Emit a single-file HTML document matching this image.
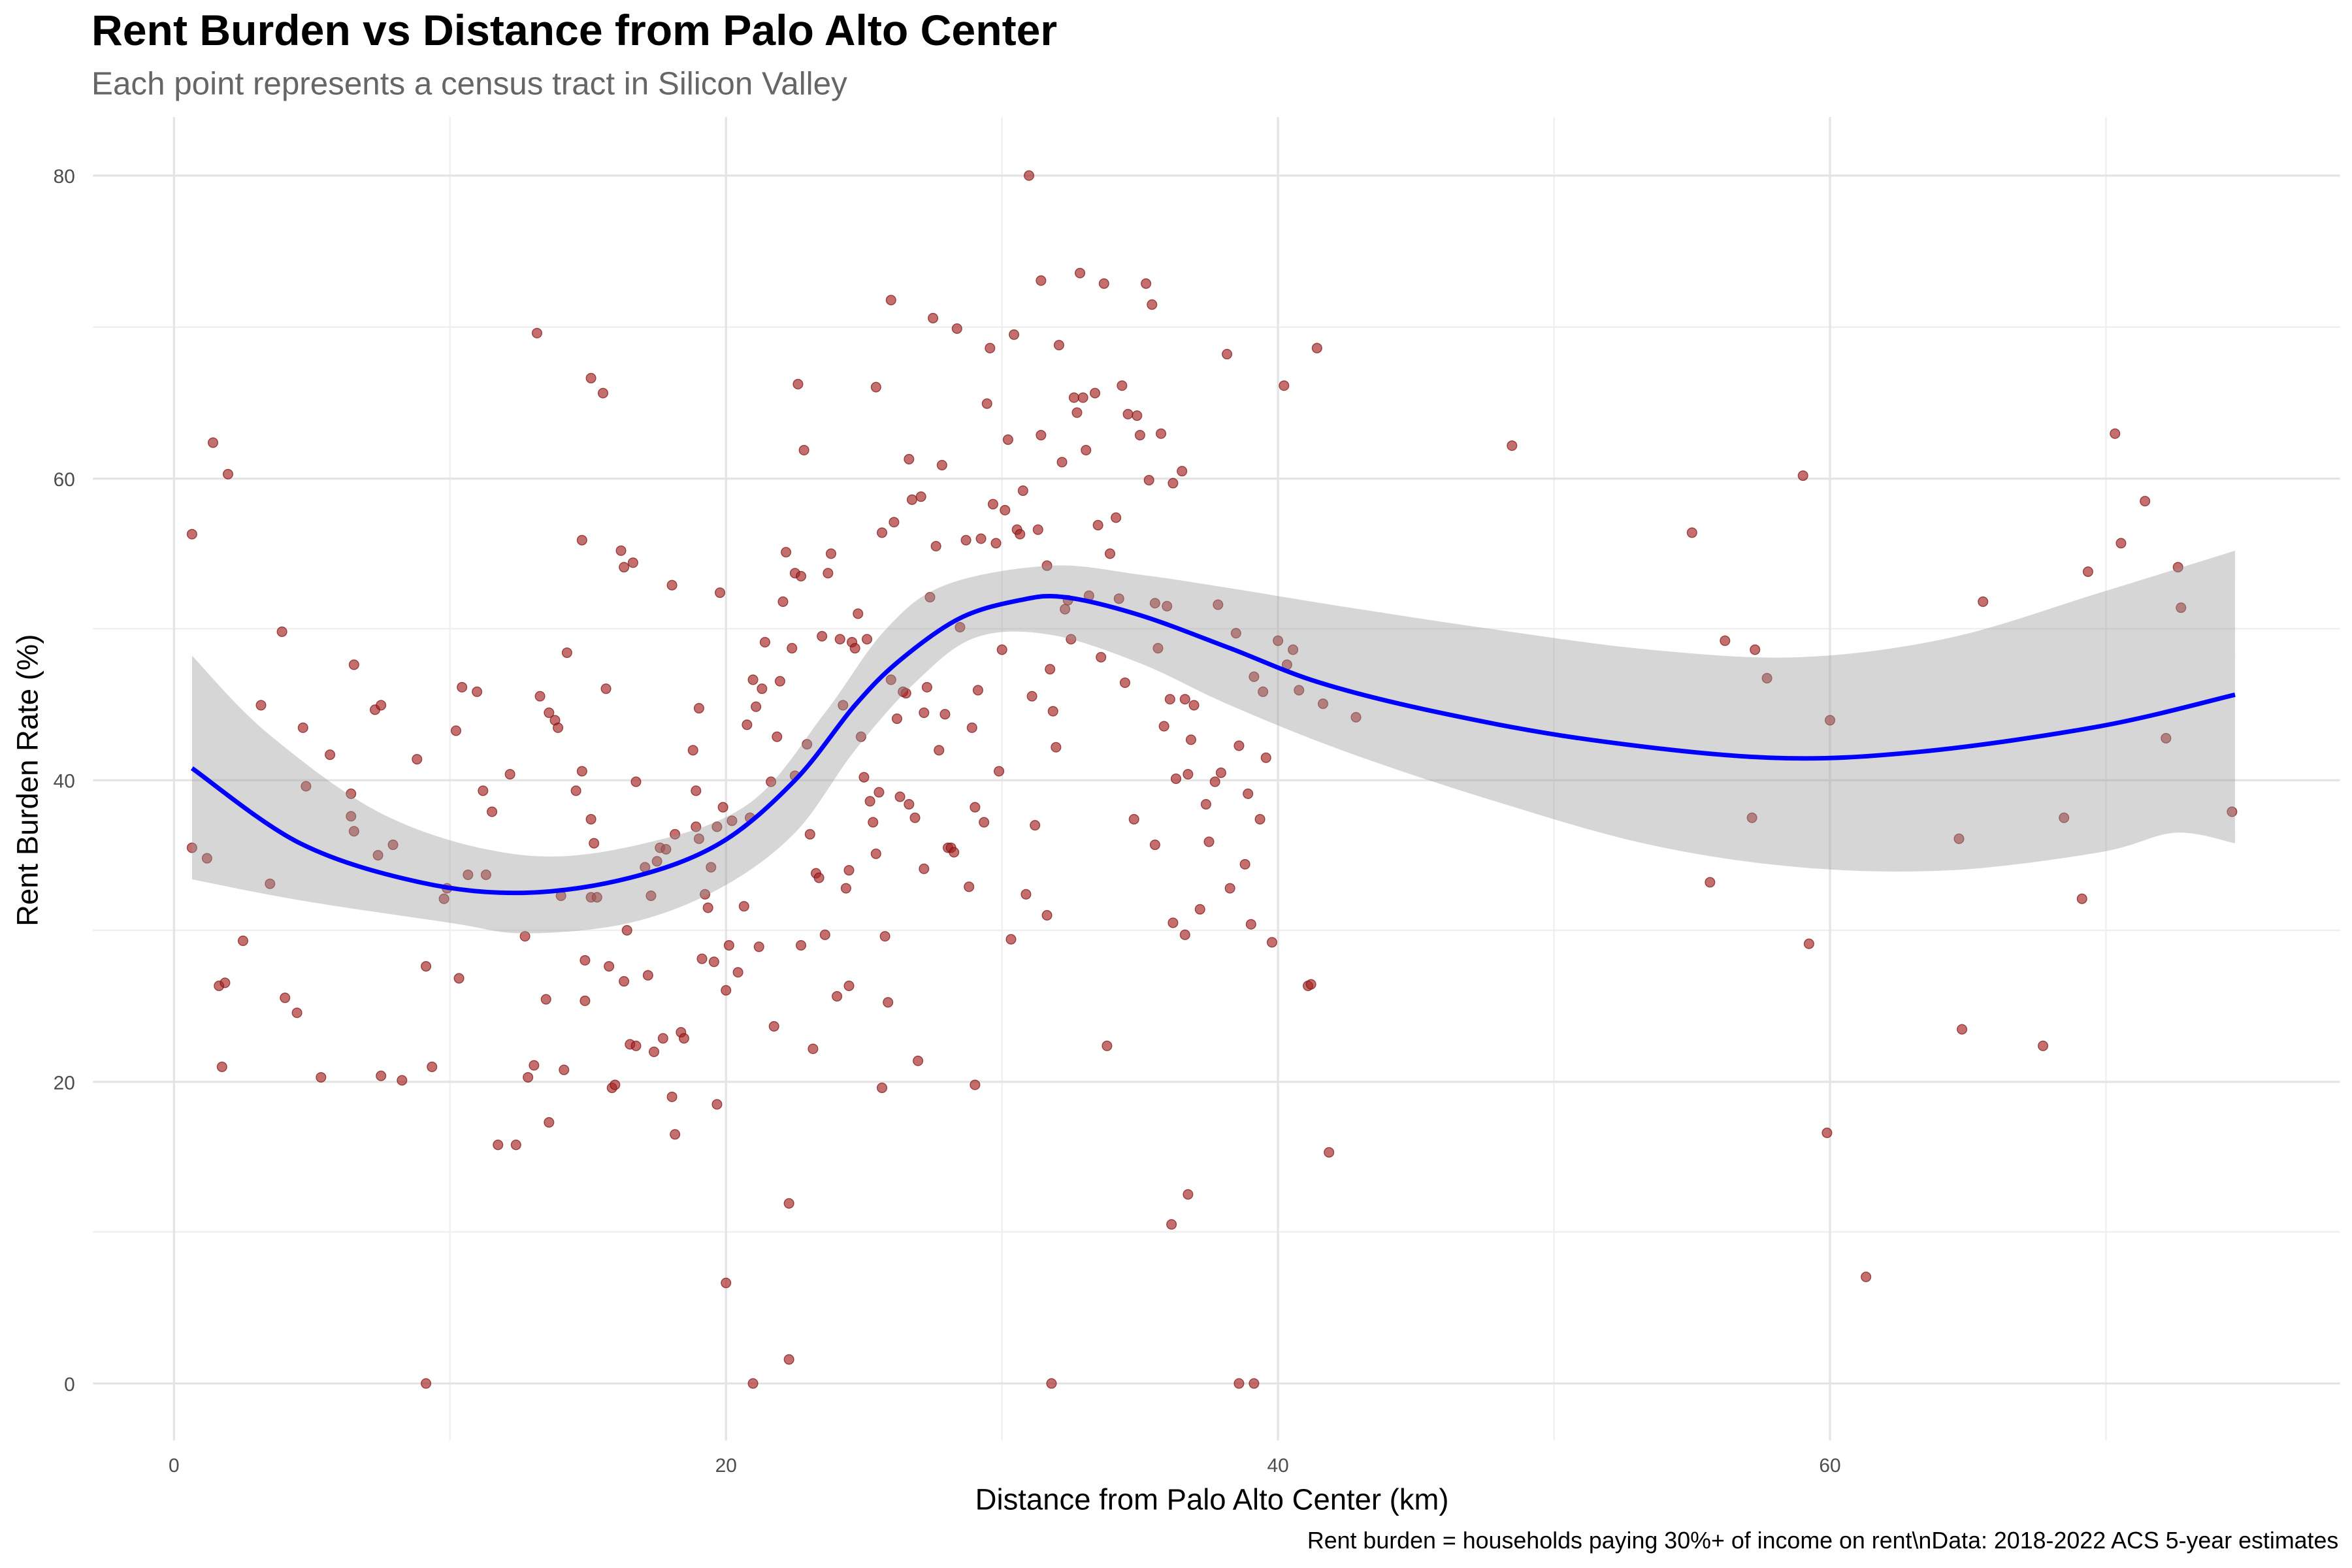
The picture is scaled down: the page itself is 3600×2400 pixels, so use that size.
<!DOCTYPE html>
<html><head><meta charset="utf-8"><style>
html,body{margin:0;padding:0;background:#fff}
svg{display:block}
text{font-family:"Liberation Sans",sans-serif}
</style></head><body>
<svg id="s" width="3600" height="2400" viewBox="0 0 1568 1045" preserveAspectRatio="none" xmlns="http://www.w3.org/2000/svg">
<rect width="1568" height="1045" fill="#fff"/>
<g stroke="#efefef" stroke-width="1">
<line x1="62" x2="1560" y1="821" y2="821"/><line x1="62" x2="1560" y1="620" y2="620"/><line x1="62" x2="1560" y1="419" y2="419"/><line x1="62" x2="1560" y1="218" y2="218"/>
<line y1="78" y2="960" x1="300" x2="300"/><line y1="78" y2="960" x1="668" x2="668"/><line y1="78" y2="960" x1="1036" x2="1036"/><line y1="78" y2="960" x1="1404" x2="1404"/>
</g>
<g stroke="#e4e4e4" stroke-width="1.4">
<line x1="62" x2="1560" y1="922" y2="922"/><line x1="62" x2="1560" y1="721" y2="721"/><line x1="62" x2="1560" y1="520" y2="520"/><line x1="62" x2="1560" y1="319" y2="319"/><line x1="62" x2="1560" y1="117" y2="117"/>
<line y1="78" y2="960" x1="116" x2="116"/><line y1="78" y2="960" x1="484" x2="484"/><line y1="78" y2="960" x1="852" x2="852"/><line y1="78" y2="960" x1="1220" x2="1220"/>
</g>
<g id="pts" fill="#a52020" fill-opacity="0.65" stroke="#7a1010" stroke-opacity="0.7" stroke-width="0.6"></g>
<path id="band" fill="#999" fill-opacity="0.4" stroke="none"/>
<path id="line" fill="none" stroke="#0000ff" stroke-width="3"/>
<g font-size="13" fill="#4d4d4d" text-anchor="end">
<text x="50" y="927">0</text><text x="50" y="726">20</text><text x="50" y="525">40</text><text x="50" y="324">60</text><text x="50" y="122">80</text>
</g>
<g font-size="13" fill="#4d4d4d" text-anchor="middle">
<text x="116" y="981">0</text><text x="484" y="981">20</text><text x="852" y="981">40</text><text x="1220" y="981">60</text>
</g>
<text x="808" y="1006" font-size="19.8" text-anchor="middle" fill="#000">Distance from Palo Alto Center (km)</text>
<text transform="translate(25,520) rotate(-90)" font-size="19.8" text-anchor="middle" fill="#000">Rent Burden Rate (%)</text>
<text x="61" y="30" font-size="28.8" font-weight="bold" fill="#000">Rent Burden vs Distance from Palo Alto Center</text>
<text x="61" y="63" font-size="21.5" fill="#666">Each point represents a census tract in Silicon Valley</text>
<text x="1559" y="1032" font-size="15.6" text-anchor="end" fill="#000">Rent burden = households paying 30%+ of income on rent\nData: 2018-2022 ACS 5-year estimates</text>
</svg>
<script>
var P=[[128,356],[128,565],[138,572],[142,295],[146,657],[148,711],[150,655],[152,316],[162,627],[174,470],[180,589],[188,421],[190,665],[198,675],[202,485],[204,524],[214,718],[220,503],[234,529],[234,544],[236,554],[236,443],[250,473],[252,570],[254,470],[254,717],[262,563],[268,720],[278,506],[284,644],[284,922],[288,711],[296,599],[298,592],[304,487],[306,652],[308,458],[312,583],[318,461],[322,527],[324,583],[328,541],[332,763],[340,516],[344,763],[350,624],[352,718],[356,710],[358,222],[360,464],[364,666],[366,475],[366,748],[370,480],[372,485],[374,597],[376,713],[378,435],[384,527],[388,514],[388,360],[390,640],[390,667],[394,252],[394,598],[394,546],[396,562],[398,598],[402,262],[404,459],[406,644],[408,725],[410,723],[414,367],[416,378],[416,654],[418,620],[420,696],[422,375],[424,521],[424,697],[430,578],[432,650],[434,597],[436,701],[438,574],[440,565],[442,692],[444,566],[448,390],[448,731],[450,556],[450,756],[454,688],[456,692],[462,500],[464,527],[464,551],[466,472],[466,559],[468,639],[470,596],[472,605],[474,578],[476,641],[478,736],[478,551],[480,395],[484,855],[482,538],[484,660],[486,630],[488,547],[492,648],[496,604],[498,483],[500,545],[502,922],[502,453],[504,471],[506,631],[508,459],[510,428],[514,521],[516,684],[518,491],[520,454],[522,401],[524,368],[526,802],[526,906],[528,432],[530,517],[530,382],[532,256],[534,630],[534,384],[536,300],[538,496],[540,556],[542,699],[544,582],[546,585],[548,424],[550,623],[552,382],[554,369],[558,664],[560,426],[562,470],[564,592],[566,657],[566,580],[568,428],[570,432],[572,409],[574,491],[576,518],[578,426],[580,534],[582,548],[584,258],[584,569],[586,528],[588,355],[588,725],[590,624],[592,668],[594,200],[594,453],[596,348],[598,479],[600,531],[602,461],[604,462],[606,306],[606,536],[608,333],[610,545],[612,707],[614,331],[616,579],[616,475],[618,458],[620,398],[622,212],[624,364],[626,500],[628,310],[630,476],[632,565],[634,565],[636,568],[638,219],[640,418],[644,360],[646,591],[648,485],[650,538],[650,723],[652,460],[654,359],[656,548],[658,269],[660,232],[662,336],[664,362],[666,514],[668,433],[670,340],[672,293],[674,626],[676,223],[678,353],[680,356],[682,327],[684,596],[686,117],[688,464],[690,550],[692,353],[694,187],[694,290],[698,377],[698,610],[700,446],[701,922],[702,474],[704,498],[706,230],[708,308],[710,406],[712,400],[714,426],[716,265],[718,275],[720,182],[722,265],[724,300],[726,397],[730,262],[732,350],[734,438],[736,189],[738,697],[740,369],[744,345],[746,399],[748,257],[750,455],[752,276],[756,546],[758,277],[760,290],[764,189],[766,320],[768,203],[770,402],[770,563],[772,432],[774,289],[776,484],[778,404],[780,466],[782,322],[782,615],[784,519],[788,314],[790,466],[790,623],[792,516],[792,796],[781,816],[794,493],[796,470],[800,606],[804,536],[806,561],[810,521],[812,403],[814,515],[818,236],[820,592],[824,422],[826,922],[836,922],[826,497],[830,576],[832,529],[834,616],[836,451],[840,546],[842,461],[844,505],[848,628],[852,427],[856,257],[858,443],[862,433],[866,460],[872,657],[874,656],[878,232],[882,469],[886,768],[904,478],[1008,297],[1128,355],[1140,588],[1150,427],[1168,545],[1170,433],[1178,452],[1202,317],[1206,629],[1218,755],[1220,480],[1244,851],[1306,559],[1308,686],[1322,401],[1362,697],[1376,545],[1388,599],[1392,381],[1410,289],[1414,362],[1430,334],[1444,492],[1452,378],[1454,405],[1488,541]];
var g=document.getElementById('pts'),h='';
P.forEach(function(p){h+='<circle cx="'+p[0]+'" cy="'+p[1]+'" r="3.2"/>';});
g.innerHTML=h;
function sm(a){var d='M'+a[0][0]+','+a[0][1];for(var i=0;i<a.length-1;i++){var p0=a[Math.max(0,i-1)],p1=a[i],p2=a[i+1],p3=a[Math.min(a.length-1,i+2)];d+=' C'+(p1[0]+(p2[0]-p0[0])/6)+','+(p1[1]+(p2[1]-p0[1])/6)+' '+(p2[0]-(p3[0]-p1[0])/6)+','+(p2[1]-(p3[1]-p1[1])/6)+' '+p2[0]+','+p2[1];}return d;}
var L=[[128,512],[200,562],[280,588],[350,595],[420,585],[480,562],[530,520],[570,470],[600,440],[640,412],[680,400],[710,398],[760,410],[820,432],[880,455],[960,475],[1060,493],[1180,505],[1280,501],[1400,484],[1490,463]];
var U=[[128,437],[180,490],[260,545],[350,570],[430,562],[500,535],[550,475],[590,420],[630,390],[700,377],[760,383],[820,392],[900,405],[1000,420],[1100,433],[1200,438],[1300,425],[1400,395],[1490,367]];
var D=[[128,586],[200,600],[300,615],[350,622],[420,615],[480,592],[530,555],[570,500],[610,455],[650,425],[700,423],[760,442],[820,470],[900,502],[1000,535],[1100,563],[1200,578],[1300,580],[1400,568],[1450,555],[1490,562]];
document.getElementById('line').setAttribute('d',sm(L));
var Dr=D.slice().reverse();
document.getElementById('band').setAttribute('d',sm(U)+' L'+sm(Dr).slice(1)+' Z');
</script>
</body></html>
